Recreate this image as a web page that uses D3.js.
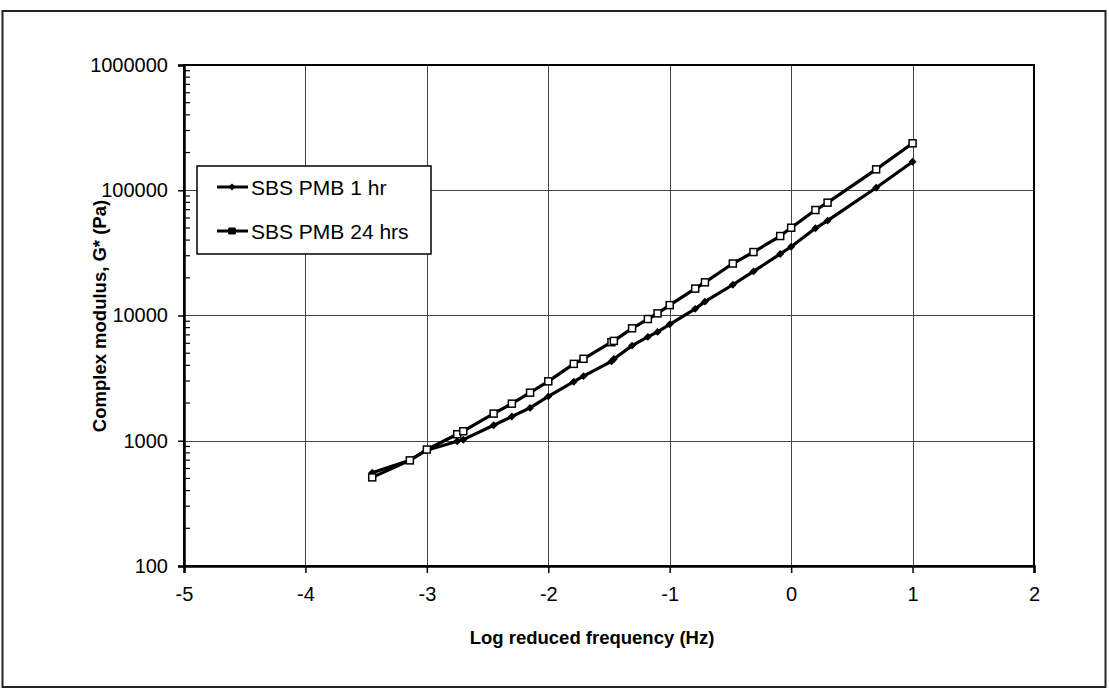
<!DOCTYPE html>
<html>
<head>
<meta charset="utf-8">
<script src="https://cdn.jsdelivr.net/npm/d3@7"></script>
<style>
  html, body { margin: 0; padding: 0; background: #fff; }
  svg { display: block; font-family: "Liberation Sans", Arial, sans-serif; }
</style>
</head>
<body>
<svg id="chart" width="1109" height="691"></svg>
<script>
// ---- data ----
const logFreq = [-3.45, -3.14, -3.0, -2.75, -2.70, -2.45, -2.30, -2.15, -2.0, -1.79, -1.71,
                 -1.48, -1.46, -1.31, -1.18, -1.10, -1.0, -0.79, -0.71, -0.48, -0.31, -0.09,
                 0.0, 0.2, 0.3, 0.7, 1.0];
const g1hr  = [556, 700, 840, 990, 1020, 1330, 1560, 1830, 2260, 2960, 3280,
               4300, 4500, 5750, 6750, 7400, 8500, 11300, 12900, 17600, 22500, 31000,
               35400, 49700, 57200, 104700, 169000];
const g24hr = [510, 697, 851, 1127, 1191, 1648, 1977, 2420, 2980, 4110, 4510,
               6120, 6270, 7900, 9370, 10400, 12100, 16400, 18400, 26000, 32100, 43100,
               50200, 69500, 79600, 146900, 237000];
const seriesNames = ["SBS PMB 1 hr", "SBS PMB 24 hrs"];
const xTicks = [-5, -4, -3, -2, -1, 0, 1, 2];
const yTicks = [100, 1000, 10000, 100000, 1000000];
const xTitle = "Log reduced frequency (Hz)";
const yTitle = "Complex modulus, G* (Pa)";

// ---- layout ----
const svg = d3.select("#chart");
const L = 184, R = 1034, T = 65, B = 566;

const x = d3.scaleLinear().domain([-5, 2]).range([L, R]);
const y = d3.scaleLog().domain([100, 1000000]).range([B, T]);

// outer border
svg.append("rect").attr("x", 2.5).attr("y", 11).attr("width", 1103).attr("height", 676)
  .attr("fill", "none").attr("stroke", "#222").attr("stroke-width", 2);

// grid
const grid = svg.append("g").attr("stroke", "#444").attr("stroke-width", 1);
grid.selectAll("line.v").data(xTicks.slice(1, -1)).join("line")
  .attr("x1", d => Math.round(x(d)) + 0.5).attr("x2", d => Math.round(x(d)) + 0.5)
  .attr("y1", T).attr("y2", B);
grid.selectAll("line.h").data(yTicks.slice(1, -1)).join("line")
  .attr("y1", d => Math.round(y(d)) + 0.5).attr("y2", d => Math.round(y(d)) + 0.5)
  .attr("x1", L).attr("x2", R);

// plot frame
svg.append("rect").attr("x", L).attr("y", T).attr("width", R - L).attr("height", B - T)
  .attr("fill", "none").attr("stroke", "#000").attr("stroke-width", 2);

// y axis
const yAxis = d3.axisLeft(y).tickValues(yTicks).tickFormat(d3.format("d")).tickSize(6).tickPadding(10);
const gy = svg.append("g").attr("transform", `translate(${L},0)`).call(yAxis);
gy.select(".domain").attr("stroke-width", 2.5);
gy.selectAll("text").attr("font-size", 20).attr("fill", "#000");
gy.selectAll(".tick line").attr("stroke-width", 1.5);
// minor ticks inside
const minor = [];
for (let e = 100; e < 1000000; e *= 10) for (let k = 2; k <= 9; k++) minor.push(e * k);
svg.append("g").selectAll("line").data(minor).join("line")
  .attr("x1", L).attr("x2", L + 6)
  .attr("y1", d => y(d)).attr("y2", d => y(d))
  .attr("stroke", "#000").attr("stroke-width", 1.2);

// x axis
const xAxis = d3.axisBottom(x).tickValues(xTicks).tickFormat(d3.format("d")).tickSize(7).tickPadding(14);
const gx = svg.append("g").attr("transform", `translate(0,${B})`).call(xAxis);
gx.select(".domain").attr("stroke-width", 2.5);
gx.selectAll("text").attr("font-size", 20).attr("fill", "#000");
gx.selectAll(".tick line").attr("stroke-width", 1.5);
gx.selectAll(".tick text").text(d => d < 0 ? "-" + Math.abs(d) : d);

// titles
svg.append("text").attr("x", (L + R) / 2 - 17).attr("y", 644).attr("text-anchor", "middle")
  .attr("font-size", 18.5).attr("font-weight", "bold").text(xTitle);
svg.append("text").attr("transform", `translate(106,316) rotate(-90)`).attr("text-anchor", "middle")
  .attr("font-size", 18.5).attr("font-weight", "bold").text(yTitle);

// lines
const line = d3.line().x(d => x(d[0])).y(d => y(d[1]));
const d1 = logFreq.map((f, i) => [f, g1hr[i]]);
const d2 = logFreq.map((f, i) => [f, g24hr[i]]);

svg.append("path").datum(d1).attr("d", line).attr("fill", "none")
  .attr("stroke", "#000").attr("stroke-width", 3.2).attr("stroke-linejoin", "round");
svg.append("path").datum(d2).attr("d", line).attr("fill", "none")
  .attr("stroke", "#000").attr("stroke-width", 3.2).attr("stroke-linejoin", "round");

// markers: 1 hr filled diamonds
svg.append("g").selectAll("path").data(d1).join("path")
  .attr("transform", d => `translate(${x(d[0])},${y(d[1])}) rotate(45)`)
  .attr("d", "M-2.8,-2.8H2.8V2.8H-2.8Z").attr("fill", "#000");
// 24 hrs open squares
svg.append("g").selectAll("rect").data(d2).join("rect")
  .attr("x", d => x(d[0]) - 3.5).attr("y", d => y(d[1]) - 3.5)
  .attr("width", 7).attr("height", 7)
  .attr("fill", "#fff").attr("stroke", "#000").attr("stroke-width", 1.5);

// legend
const lg = svg.append("g");
lg.append("rect").attr("x", 197).attr("y", 166).attr("width", 234).attr("height", 88)
  .attr("fill", "#fff").attr("stroke", "#000").attr("stroke-width", 1.5);
const ly = [187, 231];
seriesNames.forEach((name, i) => {
  lg.append("line").attr("x1", 217).attr("x2", 248).attr("y1", ly[i]).attr("y2", ly[i])
    .attr("stroke", "#000").attr("stroke-width", 3);
  if (i === 0) {
    lg.append("path").attr("transform", `translate(232,${ly[i]}) rotate(45)`)
      .attr("d", "M-2.5,-2.5H2.5V2.5H-2.5Z").attr("fill", "#000");
  } else {
    lg.append("rect").attr("x", 228).attr("y", ly[i] - 3.5).attr("width", 8).attr("height", 7)
      .attr("rx", 1.5).attr("fill", "#000");
  }
  lg.append("text").attr("x", 251).attr("y", ly[i] + 7.5).attr("font-size", 21)
    .attr("fill", "#000").text(name);
});
</script>
</body>
</html>
